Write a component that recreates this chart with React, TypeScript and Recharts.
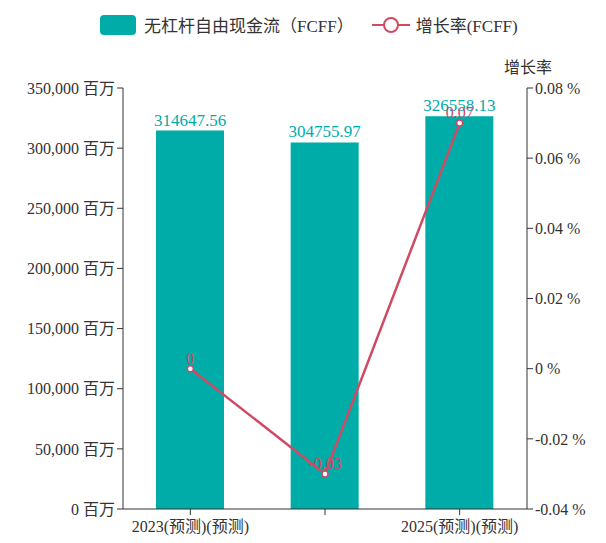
import React from 'react';
import { ComposedChart, Bar, Line, XAxis, YAxis, LabelList } from 'recharts';

const years = ['2023(预测)(预测)', '2024(预测)(预测)', '2025(预测)(预测)'];
const fcff = [314647.56, 304755.97, 326558.13];
const growth = [0, -0.03, 0.07];
const leftTicks = [0, 50000, 100000, 150000, 200000, 250000, 300000, 350000];
const rightTicks = [-0.04, -0.02, 0, 0.02, 0.04, 0.06, 0.08];

const data = years.map((y, i) => ({ year: y, fcff: fcff[i], growth: growth[i] }));

const TEAL = '#00aca8';
const RED = '#d04a64';
const FONT = '"Liberation Serif", "Noto Sans CJK SC", serif';

const XTick = ({ x, y, payload, index }: any) =>
  index === 1 ? null : (
    <text x={x} y={y + 15} textAnchor="middle" fontSize={16} fill="#333" fontFamily={FONT}>
      {payload.value}
    </text>
  );

const App: React.FC = () => (
  <div style={{ position: 'relative', width: 590, height: 535, fontFamily: FONT }}>
    <div style={{ position: 'absolute', top: 4, left: 92, display: 'flex', alignItems: 'center', fontSize: 17, color: '#333' }}>
      <span style={{ display: 'inline-block', width: 36, height: 20, background: TEAL, borderRadius: 4, marginRight: 8 }} />
      <span>无杠杆自由现金流（FCFF）</span>
      <svg width={38} height={20} style={{ marginLeft: 18, marginRight: 6 }}>
        <line x1={0} y1={10} x2={38} y2={10} stroke={RED} strokeWidth={2} />
        <circle cx={19} cy={10} r={7} fill="#fff" stroke={RED} strokeWidth={2} />
      </svg>
      <span>增长率(FCFF)</span>
    </div>
    <div style={{ position: 'absolute', top: 46, left: 496, fontSize: 16, color: '#333' }}>增长率</div>
    <ComposedChart width={590} height={535} data={data} margin={{ top: 80, right: 0, left: 0, bottom: 4 }}>
      <XAxis dataKey="year" tick={<XTick />} interval={0} stroke="#333" height={30} />
      <YAxis
        yAxisId="l"
        width={115}
        domain={[0, 350000]}
        ticks={leftTicks}
        tickFormatter={(v: number) => `${v.toLocaleString('en-US')} 百万`}
        stroke="#333"
        tick={{ fill: '#333', fontSize: 16, fontFamily: FONT }}
      />
      <YAxis
        yAxisId="r"
        orientation="right"
        width={71}
        domain={[-0.04, 0.08]}
        ticks={rightTicks}
        tickFormatter={(v: number) => `${v === 0 ? 0 : v.toFixed(2)} %`}
        stroke="#333"
        tick={{ fill: '#333', fontSize: 16, fontFamily: FONT }}
      />
      <Bar yAxisId="l" dataKey="fcff" fill={TEAL} barSize={68} isAnimationActive={false}>
        <LabelList dataKey="fcff" position="top" fill={TEAL} fontSize={17} fontFamily={FONT} />
      </Bar>
      <Line
        yAxisId="r"
        dataKey="growth"
        stroke={RED}
        strokeWidth={2.5}
        dot={{ r: 3, fill: '#fff', stroke: RED, strokeWidth: 1.5 }}
        isAnimationActive={false}
      >
        <LabelList dataKey="growth" position="top" fill={RED} fontSize={16} fontFamily={FONT} />
      </Line>
    </ComposedChart>
  </div>
);

export default App;
